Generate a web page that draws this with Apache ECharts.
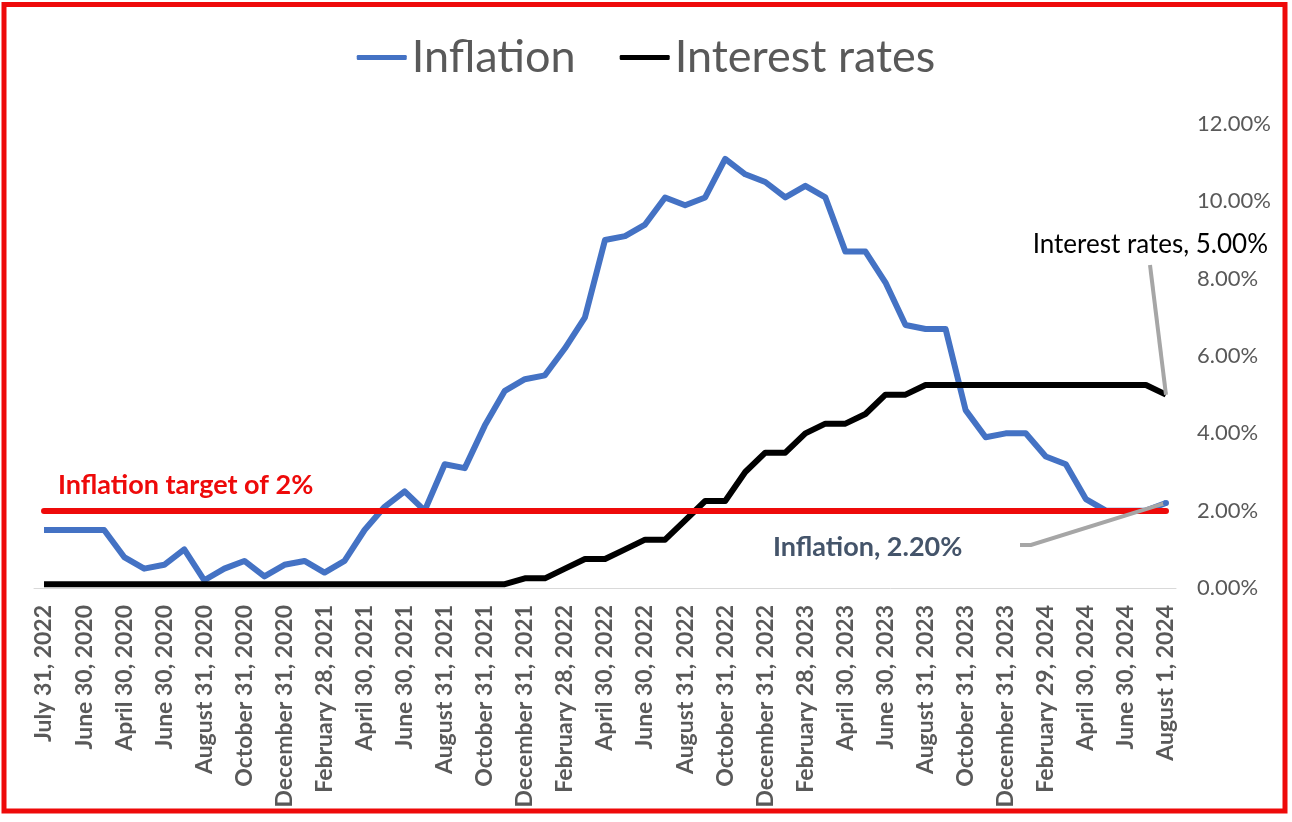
<!DOCTYPE html>
<html>
<head>
<meta charset="utf-8">
<style>
html,body{margin:0;padding:0;background:#fff;}
#c{width:1292px;height:822px;}
</style>
<script src="https://cdn.jsdelivr.net/npm/echarts@6/dist/echarts.min.js"></script>
</head>
<body>
<div id="c"></div>
<script>
const categories = [
  "July 31, 2022","January 31, 2020","June 30, 2020","March 31, 2020","April 30, 2020","May 31, 2020",
  "June 30, 2020","July 31, 2020","August 31, 2020","September 30, 2020","October 31, 2020","November 30, 2020",
  "December 31, 2020","January 31, 2021","February 28, 2021","March 31, 2021","April 30, 2021","May 31, 2021",
  "June 30, 2021","July 31, 2021","August 31, 2021","September 30, 2021","October 31, 2021","November 30, 2021",
  "December 31, 2021","January 31, 2022","February 28, 2022","March 31, 2022","April 30, 2022","May 31, 2022",
  "June 30, 2022","July 31, 2022","August 31, 2022","September 30, 2022","October 31, 2022","November 30, 2022",
  "December 31, 2022","January 31, 2023","February 28, 2023","March 31, 2023","April 30, 2023","May 31, 2023",
  "June 30, 2023","July 31, 2023","August 31, 2023","September 30, 2023","October 31, 2023","November 30, 2023",
  "December 31, 2023","January 31, 2024","February 29, 2024","March 31, 2024","April 30, 2024","May 31, 2024",
  "June 30, 2024","July 31, 2024","August 1, 2024"
];
const inflation = [
  1.5,1.5,1.5,1.5,0.8,0.5,0.6,1.0,0.2,0.5,0.7,0.3,
  0.6,0.7,0.4,0.7,1.5,2.1,2.5,2.0,3.2,3.1,4.2,5.1,
  5.4,5.5,6.2,7.0,9.0,9.1,9.4,10.1,9.9,10.1,11.1,10.7,
  10.5,10.1,10.4,10.1,8.7,8.7,7.9,6.8,6.7,6.7,4.6,3.9,
  4.0,4.0,3.4,3.2,2.3,2.0,2.0,2.0,2.2
];
const interestRates = [
  0.1,0.1,0.1,0.1,0.1,0.1,0.1,0.1,0.1,0.1,0.1,0.1,
  0.1,0.1,0.1,0.1,0.1,0.1,0.1,0.1,0.1,0.1,0.1,0.1,
  0.25,0.25,0.5,0.75,0.75,1.0,1.25,1.25,1.75,2.25,2.25,3.0,
  3.5,3.5,4.0,4.25,4.25,4.5,5.0,5.0,5.25,5.25,5.25,5.25,
  5.25,5.25,5.25,5.25,5.25,5.25,5.25,5.25,5.0
];
const inflationTarget = 2;
const yTicks = {min: 0, max: 12, interval: 2};

const RED = '#ee0a0a';
const FONT = 'Lato';
const chart = echarts.init(document.getElementById('c'), null, {renderer: 'canvas'});

const option = {
  backgroundColor: '#ffffff',
  animation: false,
  legend: {
    top: 30,
    left: 'center',
    itemWidth: 50,
    itemHeight: 5,
    itemGap: 44,
    icon: 'roundRect',
    textStyle: {fontFamily: FONT, fontSize: 45, color: '#595959'},
    data: ['Inflation', 'Interest rates']
  },
  grid: {left: 34, right: 116, top: 124, bottom: 234, containLabel: false},
  xAxis: {
    type: 'category',
    data: categories,
    boundaryGap: true,
    axisLine: {show: true, lineStyle: {color: '#d9d9d9', width: 1}},
    axisTick: {show: false},
    axisLabel: {
      interval: 1,
      rotate: 90,
      margin: 17,
      fontFamily: FONT,
      fontWeight: 'bold',
      fontSize: 23,
      color: '#595959'
    },
    splitLine: {show: false}
  },
  yAxis: {
    type: 'value',
    position: 'right',
    min: yTicks.min,
    max: yTicks.max,
    interval: yTicks.interval,
    axisLine: {show: false},
    axisTick: {show: false},
    splitLine: {show: false},
    axisLabel: {
      margin: 21,
      fontFamily: FONT,
      fontSize: 22,
      color: '#595959',
      formatter: v => v.toFixed(2) + '%'
    }
  },
  series: [
    {
      name: 'Inflation',
      type: 'line',
      data: inflation,
      showSymbol: false,
      symbol: 'none',
      color: '#4472c4',
      lineStyle: {color: '#4472c4', width: 6, join: 'round'},
      z: 2
    },
    {
      name: 'Target',
      type: 'line',
      data: [],
      symbol: 'none',
      z: 3,
      markLine: {
        silent: true,
        symbol: 'none',
        label: {show: false},
        lineStyle: {color: RED, width: 6, type: 'solid', cap: 'round'},
        data: [[{coord: [0, inflationTarget]}, {coord: [categories.length - 1, inflationTarget]}]]
      }
    },
    {
      name: 'Interest rates',
      type: 'line',
      data: interestRates,
      showSymbol: false,
      symbol: 'none',
      color: '#000000',
      lineStyle: {color: '#000000', width: 6, join: 'round'},
      z: 4
    }
  ]
};
chart.setOption(option);

const last = categories.length - 1;
const pInf = chart.convertToPixel({seriesIndex: 0}, [last, inflation[last]]);
const pInt = chart.convertToPixel({seriesIndex: 2}, [last, interestRates[last]]);

chart.setOption({
  graphic: [
    {
      type: 'rect', z: 100, silent: true,
      shape: {x: 4, y: 4.5, width: 1281, height: 806.5},
      style: {fill: 'none', stroke: RED, lineWidth: 5}
    },
    {
      type: 'polyline', z: 50, silent: true,
      shape: {points: [[1150, 265], pInt]},
      style: {stroke: '#a6a6a6', lineWidth: 4, fill: 'none'}
    },
    {
      type: 'polyline', z: 50, silent: true,
      shape: {points: [[1020, 545], [1031, 545], pInf]},
      style: {stroke: '#a6a6a6', lineWidth: 4, fill: 'none'}
    },
    {
      type: 'circle', z: 51, silent: true,
      shape: {cx: pInf[0], cy: pInf[1], r: 3},
      style: {fill: '#4472c4'}
    },
    {
      type: 'text', z: 60, silent: true,
      style: {
        text: 'Inflation target of 2%', x: 58, y: 485,
        font: 'bold 27px ' + FONT, fill: RED, align: 'left', verticalAlign: 'middle'
      }
    },
    {
      type: 'text', z: 60, silent: true,
      style: {
        text: 'Interest rates, 5.00%', x: 1268, y: 245,
        font: '26px ' + FONT, fill: '#000000', align: 'right', verticalAlign: 'middle'
      }
    },
    {
      type: 'text', z: 60, silent: true,
      style: {
        text: 'Inflation, 2.20%', x: 773, y: 547,
        font: 'bold 27px ' + FONT, fill: '#44546a', align: 'left', verticalAlign: 'middle'
      }
    }
  ]
});
</script>
</body>
</html>
